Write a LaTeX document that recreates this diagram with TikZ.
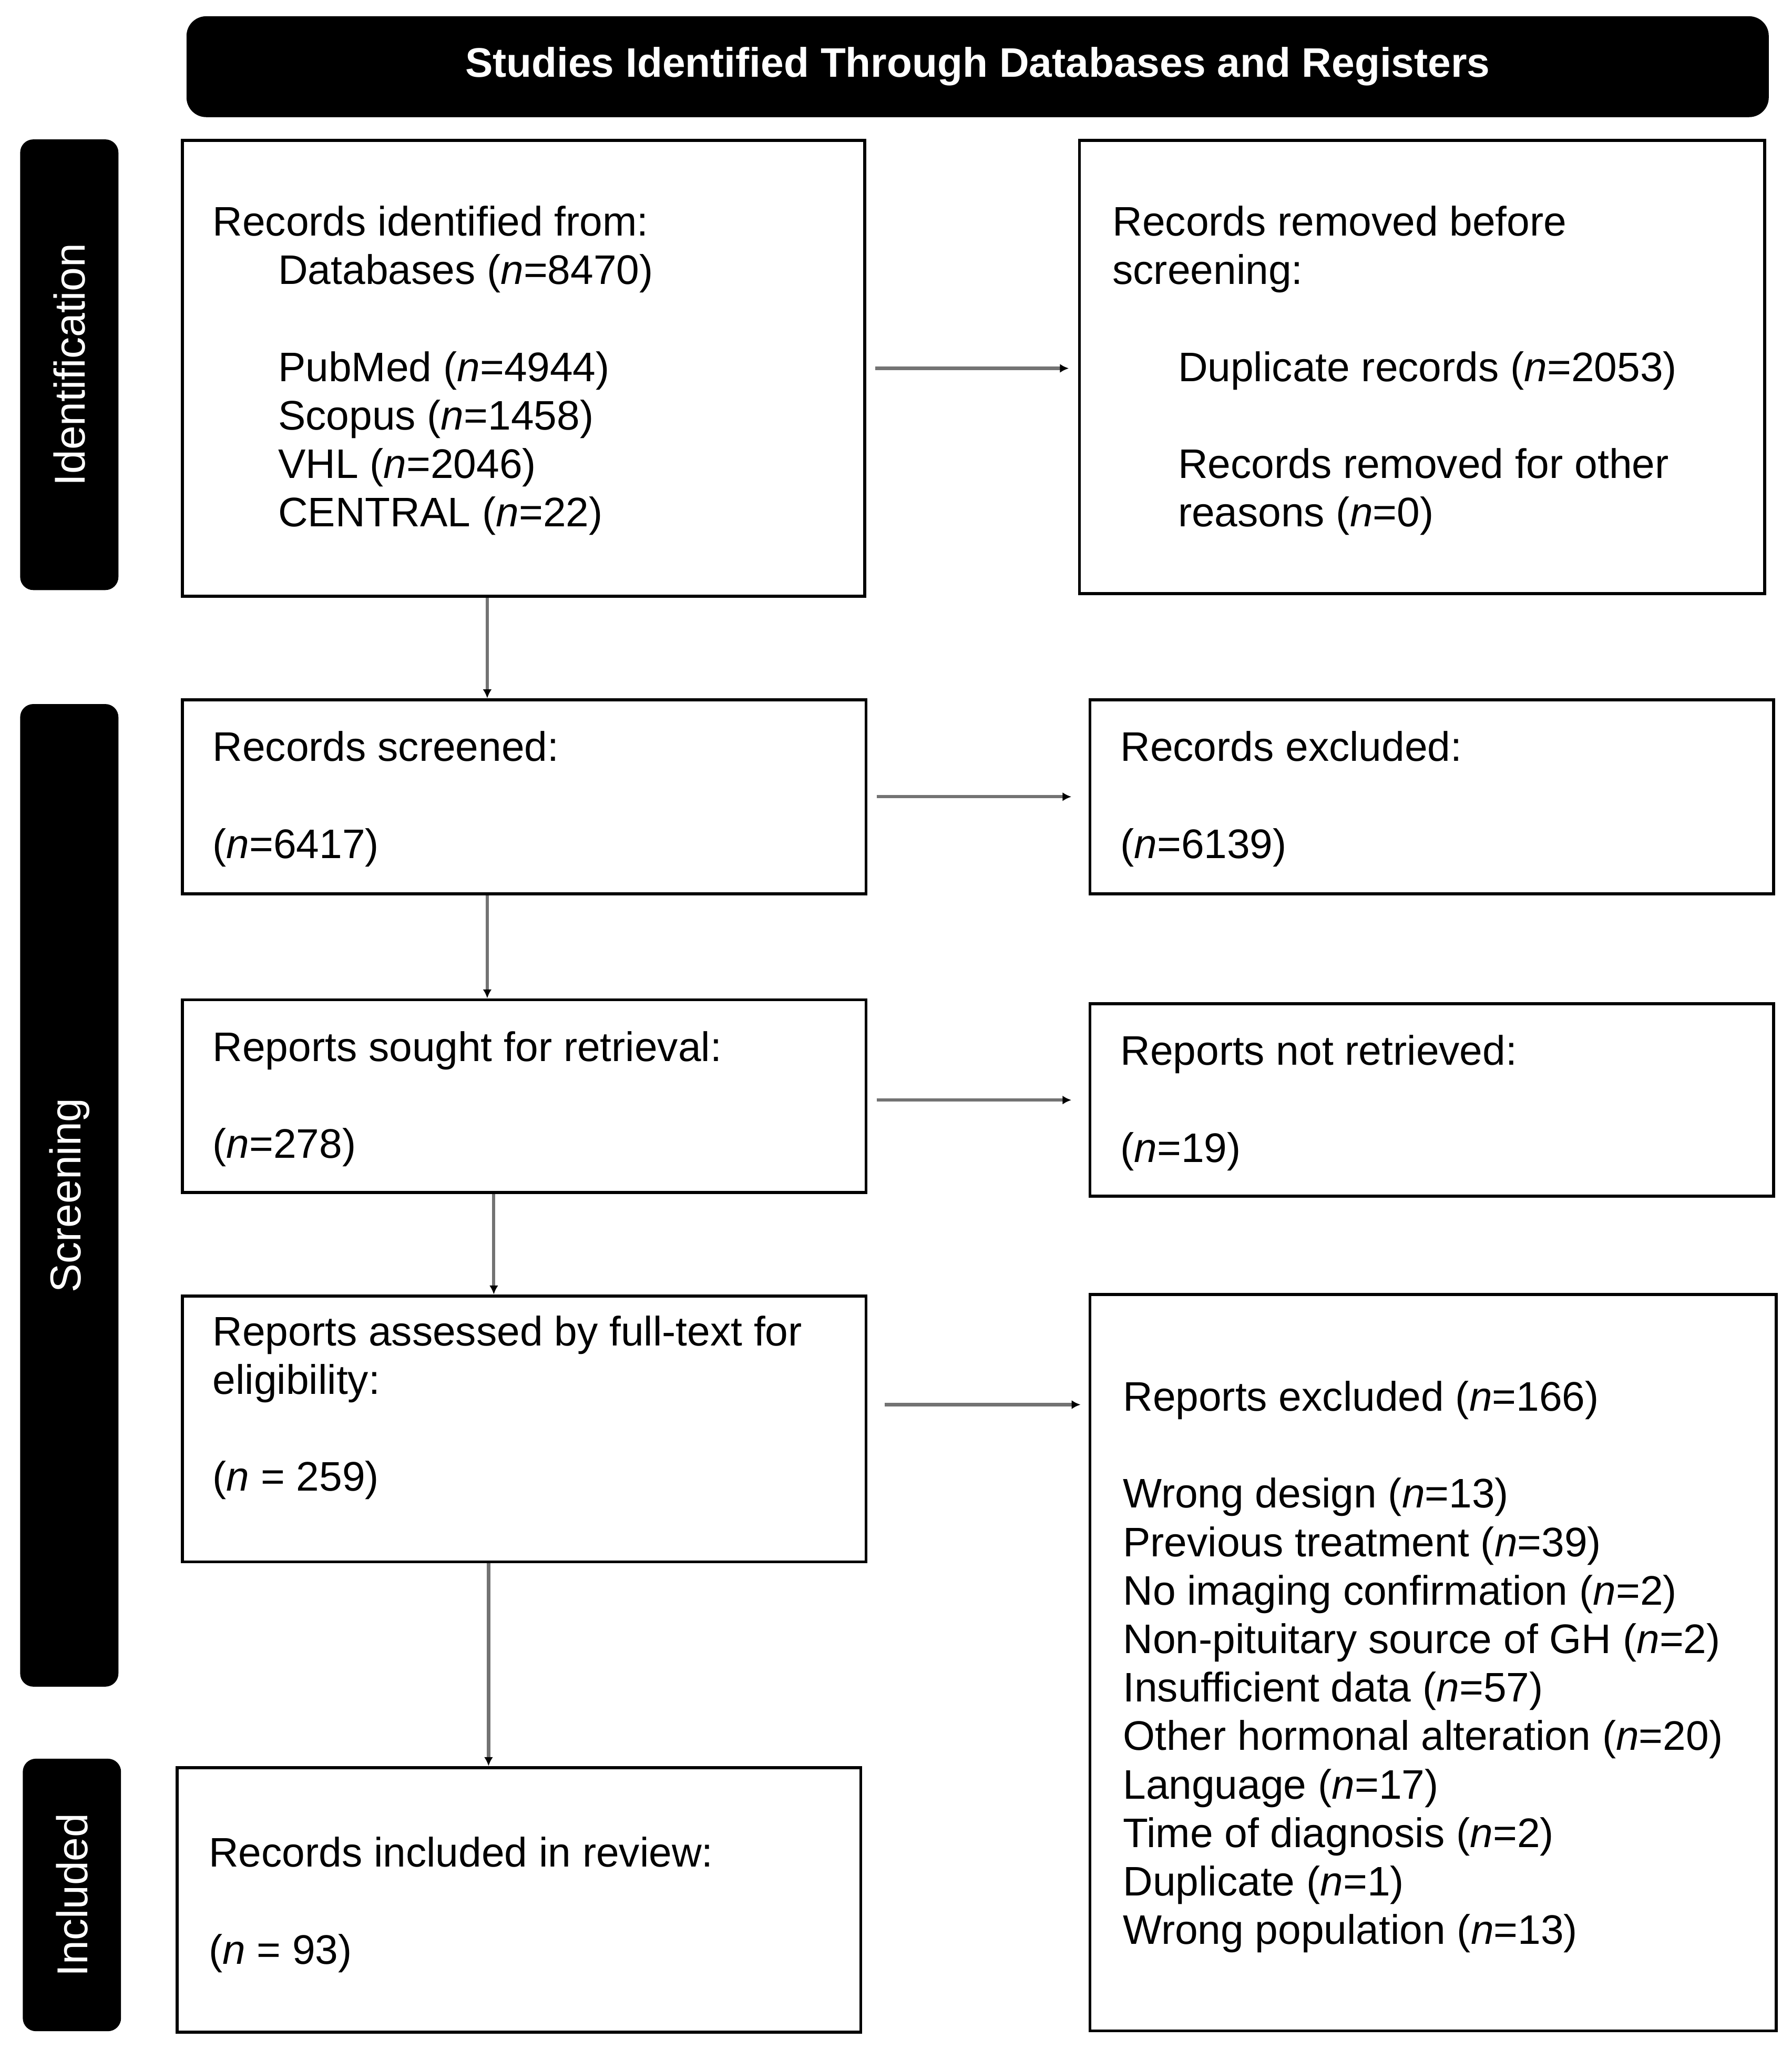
\documentclass[tikz,border=0pt]{standalone}
\usepackage{fontspec}
\setmainfont{Liberation Sans}
\usetikzlibrary{arrows.meta,calc}
\newcommand{\rows}[1]{\begin{tabular}[t]{@{}l@{}}#1\end{tabular}}
\newcommand{\ind}{\hspace*{25pt}}
\newcommand{\nn}{\textit{n}}
\begin{document}
\begin{tikzpicture}[x=0.5pt,y=-0.5pt,
  box/.style={draw=black,line width=1.15pt,inner sep=0pt,anchor=north west,fill=white},
  tab/.style={fill=black,rounded corners=5pt,inner sep=0pt,anchor=north west,minimum width=37.5pt},
  tabtxt/.style={text=white,font=\fontsize{16.5pt}{19pt}\selectfont,rotate=90,inner sep=0pt},
  txt/.style={font=\fontsize{15.75pt}{18.5pt}\selectfont,inner sep=0pt,anchor=base west},
  arr/.style={draw=black!55,line width=1.25pt,-{Latex[length=3.4pt,width=3.4pt,color=black]}}
]
\useasboundingbox (0,0) rectangle (1368,1564);

% header
\node[fill=black,rounded corners=7.5pt,inner sep=0pt,anchor=north west,
      minimum width=604pt,minimum height=38.5pt] (hdr) at (142,12) {};
\node[text=white,inner sep=0pt,font=\bfseries\fontsize{15.75pt}{18pt}\selectfont] (hdrtxt) at (hdr.center)
  {Studies Identified Through Databases and Registers};

% side tabs
\node[tab,minimum height=172pt] (tab1) at (15,106) {};
\node[tabtxt] (tab1txt) at (tab1.center) {Identification};
\node[tab,minimum height=375pt] (tab2) at (15,537) {};
\node[tabtxt] (tab2txt) at (tab2.center) {Screening};
\node[tab,minimum height=104pt] (tab3) at (17,1342) {};
\node[tabtxt] (tab3txt) at (tab3.center) {Included};

% boxes
\node[box,minimum width=260.5pt,minimum height=174pt] (b1) at (138,106) {};
\node[box,minimum width=261.5pt,minimum height=173pt] (b2) at (823,106) {};
\node[box,minimum width=261pt,minimum height=74pt] (b3) at (138,533) {};
\node[box,minimum width=261pt,minimum height=74pt] (b4) at (831,533) {};
\node[box,minimum width=261pt,minimum height=73.5pt] (b5) at (138,762) {};
\node[box,minimum width=261pt,minimum height=73.5pt] (b6) at (831,765) {};
\node[box,minimum width=261pt,minimum height=101.5pt] (b7) at (138,988) {};
\node[box,minimum width=262pt,minimum height=281pt] (b8) at (831,987) {};
\node[box,minimum width=261pt,minimum height=101pt] (b9) at (134,1348) {};

% texts
\node[txt] (t1) at (162,180) {\rows{Records identified from:\\
  \ind Databases (\nn=8470)\\ \\
  \ind PubMed (\nn=4944)\\
  \ind Scopus (\nn=1458)\\
  \ind VHL (\nn=2046)\\
  \ind CENTRAL (\nn=22)}};
\node[txt] (t2) at (849,180) {\rows{Records removed before\\
  screening:\\ \\
  \ind Duplicate records (\nn=2053)\\ \\
  \ind Records removed for other\\
  \ind reasons (\nn=0)}};
\node[txt] (t3) at (162,581) {\rows{Records screened:\\ \\ (\nn=6417)}};
\node[txt] (t4) at (855,581) {\rows{Records excluded:\\ \\ (\nn=6139)}};
\node[txt] (t5) at (162,810) {\rows{Reports sought for retrieval:\\ \\ (\nn=278)}};
\node[txt] (t6) at (855,813) {\rows{Reports not retrieved:\\ \\ (\nn=19)}};
\node[txt] (t7) at (162,1027) {\rows{Reports assessed by full-text for\\ eligibility:\\ \\ (\nn{} = 259)}};
\node[txt] (t8) at (857,1077) {\rows{Reports excluded (\nn=166)\\ \\
  Wrong design (\nn=13)\\
  Previous treatment (\nn=39)\\
  No imaging confirmation (\nn=2)\\
  Non-pituitary source of GH (\nn=2)\\
  Insufficient data (\nn=57)\\
  Other hormonal alteration (\nn=20)\\
  Language (\nn=17)\\
  Time of diagnosis (\nn=2)\\
  Duplicate (\nn=1)\\
  Wrong population (\nn=13)}};
\node[txt] (t9) at (159,1425) {\rows{Records included in review:\\ \\ (\nn{} = 93)}};

% horizontal arrows
\draw[arr] ($(b1.east)+(7,0)$) -- ($(b1.east -| b2.west)+(-7,0)$);
\draw[arr] ($(b3.east)+(7,0)$) -- ($(b3.east -| b4.west)+(-13,0)$);
\draw[arr] ($(b6.west -| b5.east)+(7,0)$) -- ($(b6.west)+(-13,0)$);
\draw[arr] ($(b7.east)+(13,-18.5)$) -- ($(b7.east -| b8.west)+(-6,-18.5)$);

% vertical arrows
\draw[arr] ($(b1.south west)+(234,0)$) coordinate (v1) -- (v1 |- b3.north);
\draw[arr] ($(b3.south west)+(234,0)$) coordinate (v2) -- (v2 |- b5.north);
\draw[arr] ($(b5.south west)+(239,0)$) coordinate (v3) -- (v3 |- b7.north);
\draw[arr] ($(b7.south west)+(235,0)$) coordinate (v4) -- (v4 |- b9.north);
\end{tikzpicture}
\end{document}
